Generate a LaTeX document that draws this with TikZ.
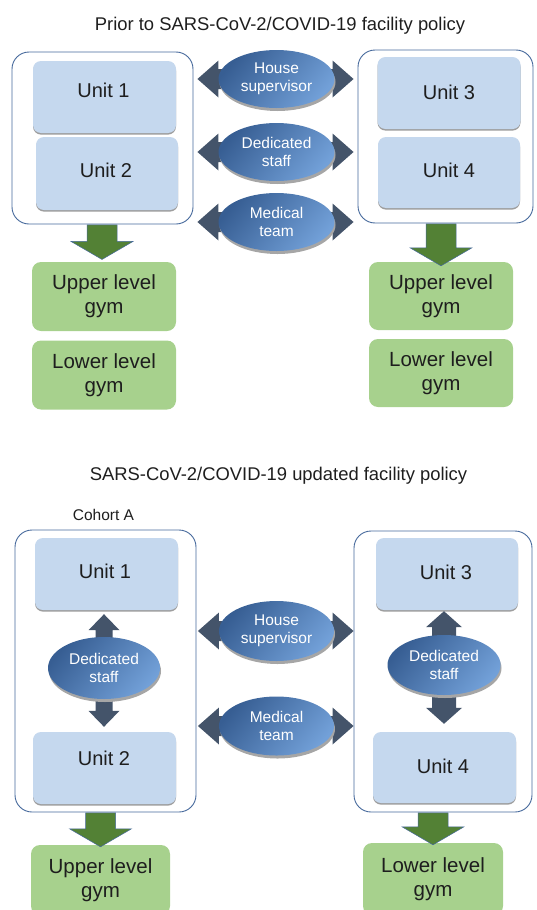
\documentclass[tikz,border=0pt]{standalone}
\usepackage{fontspec}
\setmainfont{Liberation Sans}
\usetikzlibrary{calc,shapes.geometric,shadows}
\definecolor{unitblue}{HTML}{C5D8EE}
\definecolor{gymgreen}{HTML}{A7D18D}
\definecolor{boxline}{HTML}{46699C}
\definecolor{arrowdark}{HTML}{44546A}
\definecolor{arrowgreen}{HTML}{538135}
\definecolor{elldark}{HTML}{375E93}
\definecolor{elllight}{HTML}{72A0D8}
\definecolor{txt}{HTML}{1E1E1E}
\newcommand{\hdarrow}[2]{%
  \fill[arrowdark] let \p1=(#1), \p2=(#2) in
   (\x1,\y1) -- (\x1+21pt,\y1+18.5pt) -- (\x1+21pt,\y1+10pt) -- (\x2-21pt,\y1+10pt)
   -- (\x2-21pt,\y1+18.5pt) -- (\x2,\y1) -- (\x2-21pt,\y1-18.5pt) -- (\x2-21pt,\y1-10pt)
   -- (\x1+21pt,\y1-10pt) -- (\x1+21pt,\y1-18.5pt) -- cycle;}
\newcommand{\vdarrow}[4]{%
  \fill[arrowdark] let \p1=(#1), \p2=(#2) in
   (\x1,\y1) -- (\x1+#3,\y1-16pt) -- (\x1+#4,\y1-16pt) -- (\x1+#4,\y2+16pt)
   -- (\x1+#3,\y2+16pt) -- (\x1,\y2) -- (\x1-#3,\y2+16pt) -- (\x1-#4,\y2+16pt)
   -- (\x1-#4,\y1-16pt) -- (\x1-#3,\y1-16pt) -- cycle;}
\newcommand{\gdarrow}[2]{%
  \filldraw[fill=arrowgreen, draw=boxline, line width=0.5pt] let \p1=(#1), \p2=(#2) in
   (\x1-15pt,\y1) -- (\x1-15pt,\y2+18pt) -- (\x1-31pt,\y2+18pt) -- (\x1,\y2)
   -- (\x1+31pt,\y2+18pt) -- (\x1+15pt,\y2+18pt) -- (\x1+15pt,\y1) -- cycle;}
\begin{document}
\begin{tikzpicture}[x=1pt,y=1pt,
  container/.style={draw=boxline, line width=0.9pt, fill=white, rounded corners=17pt},
  unitbox/.style={fill=unitblue, rounded corners=8pt, minimum width=143pt, minimum height=72pt,
     drop shadow={shadow xshift=0pt, shadow yshift=-1.6pt, fill=black!38, opacity=1}},
  unittxt/.style={text=txt, font=\fontsize{20}{24}\selectfont, inner sep=0pt},
  gymbox/.style={fill=gymgreen, rounded corners=9pt, minimum width=144pt, minimum height=69pt,
     text=txt, font=\fontsize{20.5}{24}\selectfont, align=center, inner sep=0pt},
  ell/.style={ellipse, minimum width=116pt, minimum height=58pt, inner sep=0pt,
     top color=elldark, bottom color=elllight, shading angle=50,
     text=white, font=\fontsize{15.5}{18.5}\selectfont, align=center,
     drop shadow={shadow xshift=1pt, shadow yshift=-3pt, fill=black!35, opacity=1}},
  ttl/.style={text=txt, font=\fontsize{18.4}{22}\selectfont, anchor=base, inner sep=0pt}
]
\useasboundingbox (0,0) rectangle (536,-910);
\clip (0,0) rectangle (536,-910);

% ---------------- top panel ----------------
\node[ttl] (t1) at (280,-30) {Prior to SARS-CoV-2/COVID-19 facility policy};

\node[container, minimum width=181pt, minimum height=172pt] (cTL) at (102.5,-138) {};
\node[container, minimum width=175pt, minimum height=173pt] (cTR) at (445.5,-136.5) {};

\node[unitbox] (U1) at (104.5,-97) {};
\node[unittxt] (U1t) at (103.5,-90.5) {Unit 1};
\node[unitbox, minimum width=142pt, minimum height=73pt] (U2) at (107,-173.5) {};
\node[unittxt] (U2t) at (106,-170.5) {Unit 2};
\node[unitbox, minimum width=143pt, minimum height=72pt] (U3) at (449,-93) {};
\node[unittxt] (U3t) at (449,-92) {Unit 3};
\node[unitbox, minimum width=142pt, minimum height=71pt] (U4) at (449,-172.5) {};
\node[unittxt] (U4t) at (449,-170.5) {Unit 4};

\coordinate (hsc) at (276.5,-79);
\coordinate (dsc) at (276.5,-152);
\coordinate (mtc) at (276.5,-222);
\hdarrow{$(cTL.east |- hsc)+(4,0)$}{$(cTR.west |- hsc)+(-4,0)$}
\hdarrow{$(cTL.east |- dsc)+(4,0)$}{$(cTR.west |- dsc)+(-4,0)$}
\hdarrow{$(cTL.east |- mtc)+(4,0)$}{$(cTR.west |- mtc)+(-4,0)$}
\node[ell] (hs) at (hsc) {House\\supervisor};
\node[ell] (ds) at (dsc) {Dedicated\\staff};
\node[ell] (mt) at (mtc) {Medical\\team};

\node[gymbox] (G1) at (104,-296.5) {Upper level\\gym};
\node[gymbox] (G2) at (104,-375) {Lower level\\gym};
\node[gymbox, minimum height=68pt] (G3) at (441,-296) {Upper level\\gym};
\node[gymbox, minimum height=68pt] (G4) at (441,-373) {Lower level\\gym};

\gdarrow{$(cTL.south)+(-0.5,-0.5)$}{$(cTL.south)+(-0.5,-35)$}
\gdarrow{$(cTR.south -| G3.north)+(0,-0.5)$}{$(G3.north)+(0,-4)$}

% ---------------- bottom panel ----------------
\node[ttl] (t2) at (278.5,-480) {SARS-CoV-2/COVID-19 updated facility policy};
\node[ttl, font=\fontsize{15.5}{18}\selectfont] (coh) at (103.5,-520) {Cohort A};

\node[container, minimum width=181pt, minimum height=282pt] (cBL) at (105.5,-671) {};
\node[container, minimum width=178pt, minimum height=281pt] (cBR) at (443,-671.5) {};

\node[unitbox] (V1) at (106.5,-574) {};
\node[unittxt] (V1t) at (105,-571.5) {Unit 1};
\node[unitbox] (V2) at (104.5,-768) {};
\node[unittxt] (V2t) at (104,-758) {Unit 2};
\node[unitbox, minimum width=142pt] (V3) at (447,-574) {};
\node[unittxt] (V3t) at (446,-572.5) {Unit 3};
\node[unitbox, minimum height=71pt] (V4) at (444.5,-767.5) {};
\node[unittxt] (V4t) at (443,-766.5) {Unit 4};

\coordinate (dslc) at (104,-668);
\coordinate (dsrc) at (444,-665);
\vdarrow{$(dslc |- V1.south)+(0,-4)$}{$(dslc |- V2.north)+(0,5)$}{15.5pt}{8.5pt}
\vdarrow{$(dsrc |- V3.south)+(0,-1)$}{$(dsrc |- V4.north)+(0,8)$}{18pt}{12pt}
\node[ell, minimum width=112pt, minimum height=62pt] (dsl) at (dslc) {Dedicated\\staff};
\node[ell, minimum width=113pt, minimum height=60pt] (dsr) at (dsrc) {Dedicated\\staff};

\coordinate (hsbc) at (276.5,-631);
\coordinate (mtbc) at (276.5,-726);
\hdarrow{$(cBL.east |- hsbc)+(1.5,0)$}{$(cBR.west |- hsbc)+(0,0)$}
\hdarrow{$(cBL.east |- mtbc)+(1.5,0)$}{$(cBR.west |- mtbc)+(0,0)$}
\node[ell, minimum width=115pt, minimum height=60pt] (hsb) at (hsbc) {House\\supervisor};
\node[ell, minimum width=115pt, minimum height=59pt] (mtb) at (mtbc) {Medical\\team};

\node[gymbox, minimum width=139pt, minimum height=70pt] (G5) at (100.5,-880) {Upper level\\gym};
\node[gymbox, minimum width=140pt, minimum height=72pt] (G6) at (433,-879) {Lower level\\gym};

\gdarrow{$(cBL.south -| G5.north)+(0,-0.5)$}{$(G5.north)+(0,-2)$}
\gdarrow{$(cBR.south -| G6.north)+(0,-0.5)$}{$(G6.north)+(0,-2)$}
\end{tikzpicture}
\end{document}
